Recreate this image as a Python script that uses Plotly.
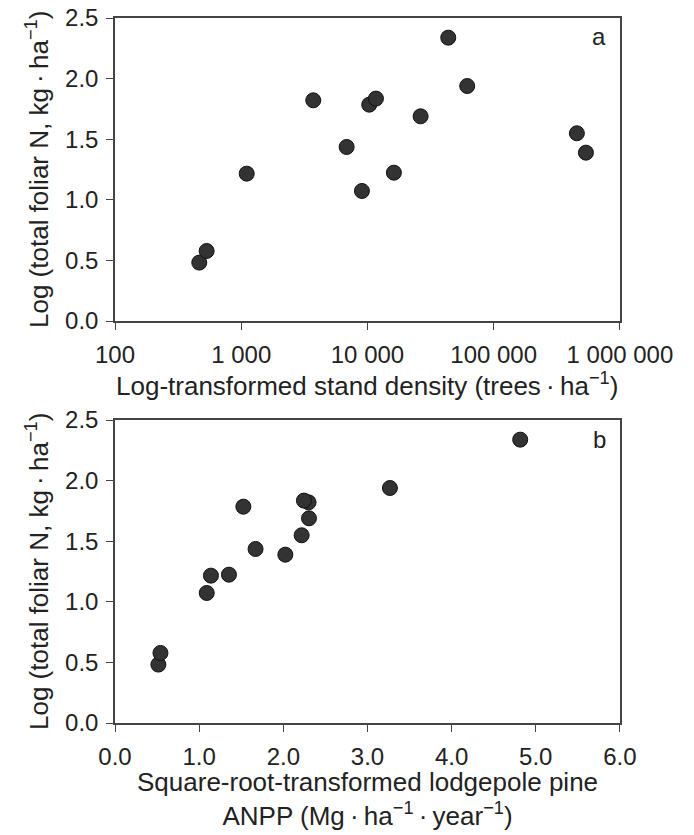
import plotly.graph_objects as go
from plotly.subplots import make_subplots

# valores (14 rodales)
densidad = [465, 532, 1105, 3720, 6840, 9040, 10330, 11670, 16200, 26370, 43650, 61700, 456000, 538000]
anpp = [0.515, 0.54, 1.14, 2.30, 1.67, 1.09, 1.525, 2.245, 1.354, 2.305, 4.815, 3.267, 2.218, 2.024]
log_n = [0.482, 0.578, 1.216, 1.821, 1.436, 1.073, 1.785, 1.835, 1.224, 1.689, 2.338, 1.939, 1.549, 1.389]

x_a_vals = [100, 1000, 10000, 100000, 1000000]
x_a_text = ["100", "1 000", "10 000", "100 000", "1 000 000"]
y_vals = [0.0, 0.5, 1.0, 1.5, 2.0, 2.5]

FONT = "Liberation Sans, Arial, sans-serif"
INK = "#222222"
LINE = "#444444"
DOT = "\u2009\u00b7\u2009"
MENOS1 = "<sup>\u22121</sup>"

fig = make_subplots(rows=2, cols=1)

marker = dict(size=15, color="#333333", line=dict(width=1, color="#111111"))
fig.add_trace(go.Scatter(x=densidad, y=log_n, mode="markers", marker=marker), row=1, col=1)
fig.add_trace(go.Scatter(x=anpp, y=log_n, mode="markers", marker=marker), row=2, col=1)

ejes = dict(showline=True, linecolor=LINE, linewidth=1.5, mirror=True,
            ticks="outside", ticklen=7, tickwidth=1.2, tickcolor=LINE,
            showgrid=False, zeroline=False, automargin=False,
            ticklabeloverflow="allow",
            tickfont=dict(family=FONT, size=24, color=INK))

# la pagina tiene 8 px de margen en el body: figura de 686x827
fig.update_layout(
    template="none",
    width=686, height=827,
    margin=dict(l=0, r=0, t=0, b=0),
    plot_bgcolor="white", paper_bgcolor="white",
    showlegend=False,
    font=dict(family=FONT, size=24, color=INK),
    xaxis=dict(ejes, type="log", range=[2, 6], domain=[0.156, 0.892],
               tickvals=x_a_vals, ticktext=x_a_text, ticklabelstandoff=4),
    yaxis=dict(ejes, range=[0, 2.5], domain=[0.6215, 0.9879],
               tickvals=y_vals, tickformat=".1f", ticklabelstandoff=3),
    xaxis2=dict(ejes, range=[0, 6], domain=[0.156, 0.892],
                tickvals=[0, 1, 2, 3, 4, 5, 6], tickformat=".1f", ticklabelstandoff=4),
    yaxis2=dict(ejes, range=[0, 2.5], domain=[0.1354, 0.5018],
                tickvals=y_vals, tickformat=".1f", ticklabelstandoff=3),
)

# titulos de ejes como anotaciones para fijar su posicion
ytitle = "Log (total foliar N, kg" + DOT + "ha" + MENOS1 + ")"
tfont = dict(family=FONT, size=26, color=INK)
fig.add_annotation(text="Log-transformed stand density (trees" + DOT + "ha" + MENOS1 + ")",
                   xref="x domain", yref="paper", x=0.5, y=0.567,
                   xanchor="center", yanchor="top", showarrow=False, font=tfont)
fig.add_annotation(text="Square-root-transformed lodgepole pine<br>ANPP (Mg" + DOT + "ha" + MENOS1 + DOT + "year" + MENOS1 + ")",
                   xref="x2 domain", yref="paper", x=0.5, y=0.002,
                   xanchor="center", yanchor="bottom", showarrow=False, font=tfont)
fig.add_annotation(text=ytitle, textangle=-90, xref="paper", yref="y domain", x=0.016, y=0.5,
                   xanchor="left", yanchor="middle", showarrow=False, font=tfont)
fig.add_annotation(text=ytitle, textangle=-90, xref="paper", yref="y2 domain", x=0.016, y=0.5,
                   xanchor="left", yanchor="middle", showarrow=False, font=tfont)

fig.add_annotation(text="a", xref="x domain", yref="y domain", x=0.976, y=0.888,
                   xanchor="right", yanchor="bottom", showarrow=False, font=dict(size=24))
fig.add_annotation(text="b", xref="x2 domain", yref="y2 domain", x=0.976, y=0.884,
                   xanchor="right", yanchor="bottom", showarrow=False, font=dict(size=24))

fig.write_html("out.html")
